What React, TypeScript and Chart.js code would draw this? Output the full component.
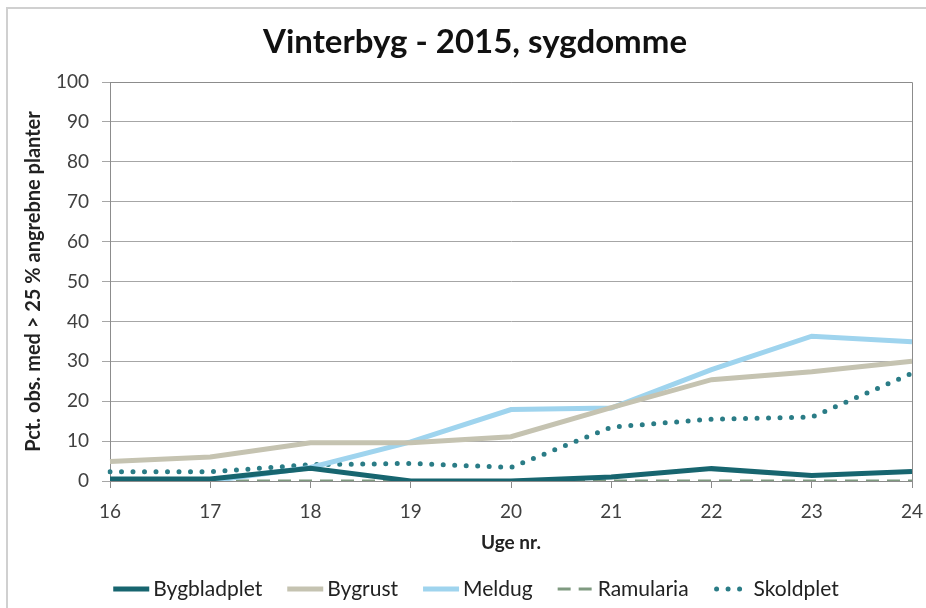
import React, { useEffect, useRef } from "react";
import { Chart, registerables } from "chart.js";

Chart.register(...registerables);

const weeks = ["16", "17", "18", "19", "20", "21", "22", "23", "24"];
const bygbladplet = [0.5, 0.5, 3.2, 0, 0, 1, 3.1, 1.4, 2.4];
const bygrust = [4.9, 6, 9.6, 9.6, 11.1, 18.4, 25.4, 27.4, 30];
const meldug = [0, 0, 3.4, 9.8, 17.9, 18.3, 27.9, 36.3, 34.9];
const ramularia = [0, 0, 0, 0, 0, 0, 0, 0, 0];
const skoldplet = [2.3, 2.3, 4.1, 4.4, 3.4, 13.5, 15.5, 16, 27];
const yTicks = [0, 10, 20, 30, 40, 50, 60, 70, 80, 90, 100];

const FONT = "Lato, 'Open Sans', sans-serif";

export default function App() {
  const ref = useRef<HTMLCanvasElement | null>(null);
  useEffect(() => {
    if (!ref.current) return;
    const frame = {
      id: "frame",
      afterDraw(chart: any) {
        const { ctx, chartArea: a } = chart;
        ctx.save();
        ctx.strokeStyle = "#8c8c8c";
        ctx.lineWidth = 1;
        ctx.beginPath();
        ctx.moveTo(a.left, a.top + 0.5);
        ctx.lineTo(a.right + 0.5, a.top + 0.5);
        ctx.lineTo(a.right + 0.5, a.bottom);
        ctx.stroke();
        ctx.restore();
      },
    };
    const customLegend = {
      id: "customLegend",
      afterDraw(chart: any) {
        const { ctx } = chart;
        const sample = 36;
        const gap = 4;
        const spacing = 25;
        const cy = 589;
        const cx = 476;
        ctx.save();
        ctx.font = `21px ${FONT}`;
        const dss: any[] = chart.data.datasets;
        const widths = dss.map((d) => sample + gap + ctx.measureText(d.label).width);
        const total = widths.reduce((s, w) => s + w, 0) + spacing * (dss.length - 1);
        let x = cx - total / 2;
        dss.forEach((d, i) => {
          ctx.save();
          ctx.strokeStyle = d.borderColor;
          ctx.lineWidth = d.borderWidth;
          ctx.lineCap = d.borderCapStyle || "butt";
          ctx.setLineDash(d.borderDash || []);
          ctx.beginPath();
          const x0 = d.borderCapStyle === "round" ? x + 3 : x;
          ctx.moveTo(x0, cy);
          ctx.lineTo(x + sample, cy);
          ctx.stroke();
          ctx.restore();
          ctx.fillStyle = "#222";
          ctx.textBaseline = "middle";
          ctx.textAlign = "left";
          ctx.fillText(d.label, x + sample + gap, cy);
          x += widths[i] + spacing;
        });
        ctx.restore();
      },
    };
    const chart = new Chart(ref.current, {
      type: "line",
      data: {
        labels: weeks,
        datasets: [
          { label: "Bygbladplet", data: bygbladplet, borderColor: "#17656f", backgroundColor: "#17656f", borderWidth: 5 },
          { label: "Bygrust", data: bygrust, borderColor: "#c5c3b1", backgroundColor: "#c5c3b1", borderWidth: 5 },
          { label: "Meldug", data: meldug, borderColor: "#9fd4ee", backgroundColor: "#9fd4ee", borderWidth: 5 },
          { label: "Ramularia", data: ramularia, borderColor: "#7f9a80", backgroundColor: "#7f9a80", borderWidth: 3, borderDash: [13, 8] },
          { label: "Skoldplet", data: skoldplet, borderColor: "#2a7c86", backgroundColor: "#2a7c86", borderWidth: 5, borderDash: [0, 11.5], borderCapStyle: "round" },
        ] as any,
      },
      options: {
        animation: false,
        responsive: false,
        maintainAspectRatio: false,
        elements: { point: { radius: 0, hoverRadius: 0 }, line: { tension: 0 } },
        layout: { padding: { left: 38, right: 14, top: 0, bottom: 50 } },
        plugins: {
          title: {
            display: true,
            text: "Vinterbyg - 2015, sygdomme",
            color: "#111",
            font: { family: FONT, size: 33, weight: "bold" },
            padding: { top: 22.5, bottom: 19.9 },
          },
          legend: { display: false },
          tooltip: { enabled: false },
        },
        scales: {
          x: {
            type: "category",
            offset: false,
            grid: { display: true, drawOnChartArea: false, drawTicks: true, tickLength: 7, color: "#8c8c8c" },
            border: { color: "#8c8c8c" },
            ticks: { color: "#404040", font: { family: FONT, size: 19 }, padding: 12, maxRotation: 0 },
            title: { display: true, text: "Uge nr.", color: "#222", font: { family: FONT, size: 19, weight: "bold" }, padding: { top: 4, bottom: 4 } },
            afterFit(s: any) { s.height = 77; s.paddingLeft = 0; s.paddingRight = 0; },
          },
          y: {
            min: 0,
            max: 100,
            afterBuildTicks(s: any) { s.ticks = yTicks.map((v) => ({ value: v })); },
            grid: { color: "#a6a6a6", tickLength: 8, drawTicks: true },
            border: { color: "#8c8c8c" },
            ticks: { color: "#404040", font: { family: FONT, size: 19 }, padding: 13 },
            title: { display: true, text: "Pct. obs. med > 25 % angrebne planter", color: "#222", font: { family: FONT, size: 20, weight: "bold" }, padding: { top: -16, bottom: 4 } },
            afterFit(s: any) { s.width = 72; s.paddingTop = 0; s.paddingBottom = 0; },
          },
        },
      },
      plugins: [frame, customLegend],
    });
    return () => chart.destroy();
  }, []);
  return (
    <div style={{ position: "absolute", left: 0, top: 0, width: 926, height: 608, overflow: "hidden", background: "#fff" }}>
      <div style={{ position: "absolute", left: 6, top: 7, width: 940, height: 640, border: "2px solid #d0d0d0" }} />
      <canvas ref={ref} width={926} height={608} style={{ position: "absolute", left: 0, top: 0, width: 926, height: 608 }} />
    </div>
  );
}
